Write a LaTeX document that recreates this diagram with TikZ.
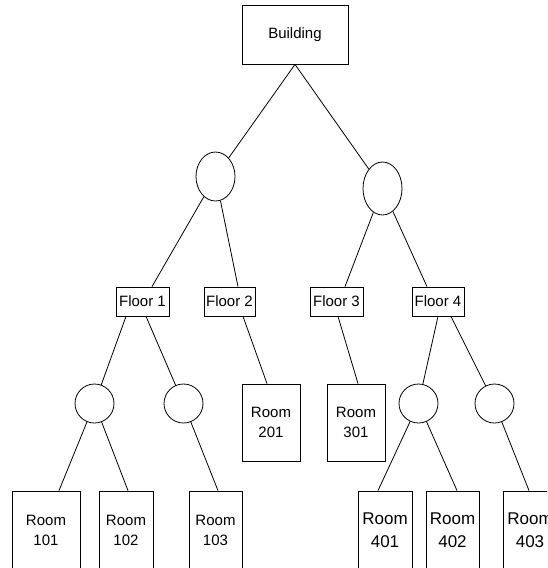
\documentclass[tikz,border=0pt]{standalone}
\usepackage{fontspec}
\setmainfont{Liberation Sans}
\usetikzlibrary{shapes.geometric}
\begin{document}
\begin{tikzpicture}[x=1pt,y=-1pt,
  box/.style={draw, line width=0.8pt, inner sep=0pt, align=center,
              font=\fontsize{15}{20}\selectfont},
  topbox/.style={box, minimum width=106pt, minimum height=59pt},
  floorbox/.style={box, minimum width=52pt, minimum height=29pt},
  roombox/.style={box, minimum width=55pt, minimum height=78pt},
  bigroom/.style={roombox, font=\fontsize{17}{23}\selectfont},
  junction/.style={draw, ellipse, line width=0.8pt, inner sep=0pt,
                   minimum width=39pt, minimum height=39pt},
  link/.style={line width=0.8pt}]
\useasboundingbox (0,0) rectangle (547,568);
\clip (0,0) rectangle (547,568);

% root
\node[topbox] (b) at (295,34.5) {Building};

% upper junctions
\node[junction, minimum height=49pt] (e1) at (215.5,176.5) {};
\node[junction, minimum height=53pt] (e2) at (382.5,188.5) {};

% floors
\node[floorbox, minimum width=53pt] (f1) at (142.5,301.5) {Floor 1};
\node[floorbox, minimum width=51pt] (f2) at (229.5,301.5) {Floor 2};
\node[floorbox, minimum width=53pt] (f3) at (336.5,301.5) {Floor 3};
\node[floorbox] (f4) at (438,301.5) {Floor 4};

% lower junctions
\node[junction] (e3) at (94.5,403.5) {};
\node[junction] (e4) at (183.5,403.5) {};
\node[junction] (e5) at (418.5,403.5) {};
\node[junction] (e6) at (494.5,403.5) {};

% rooms
\node[roombox, minimum width=58pt, minimum height=77pt] (r201) at (271,422.5) {Room\\201};
\node[roombox, minimum width=58pt, minimum height=77pt] (r301) at (356,422.5) {Room\\301};
\node[roombox, minimum width=68pt] (r101) at (46,530) {Room\\101};
\node[roombox, minimum width=54pt] (r102) at (126,530) {Room\\102};
\node[roombox, minimum width=53pt] (r103) at (215.5,530) {Room\\103};
\node[bigroom, minimum width=54pt] (r401) at (385,530) {Room\\401};
\node[bigroom, minimum width=53pt] (r402) at (452.5,530) {Room\\402};
\node[bigroom, minimum width=54pt] (r403) at (530,530) {Room\\403};

% connectors
\draw[link] (b.south) -- (e1);
\draw[link] (b.south) -- (e2);
\draw[link] (e1) -- ([xshift=9.5pt]f1.north);
\draw[link] (e1) -- ([xshift=8.5pt]f2.north);
\draw[link] (e2) -- ([xshift=8.5pt]f3.north);
\draw[link] (e2) -- ([xshift=-11pt]f4.north);
\draw[link] ([xshift=-16.5pt]f1.south) -- (e3);
\draw[link] ([xshift=3.5pt]f1.south) -- (e4);
\draw[link] ([xshift=13.5pt]f2.south) -- ([xshift=-4pt]r201.north);
\draw[link] ([xshift=1.5pt]f3.south) -- ([xshift=2pt]r301.north);
\draw[link] (f4.south) -- (e5);
\draw[link] ([xshift=13pt]f4.south) -- (e6);
\draw[link] (e3) -- ([xshift=13pt]r101.north);
\draw[link] (e3) -- ([xshift=2pt]r102.north);
\draw[link] (e4) -- ([xshift=2.5pt]r103.north);
\draw[link] (e5) -- ([xshift=-7pt]r401.north);
\draw[link] (e5) -- ([xshift=4.5pt]r402.north);
\draw[link] (e6) -- ([xshift=-1pt]r403.north);
\end{tikzpicture}
\end{document}
